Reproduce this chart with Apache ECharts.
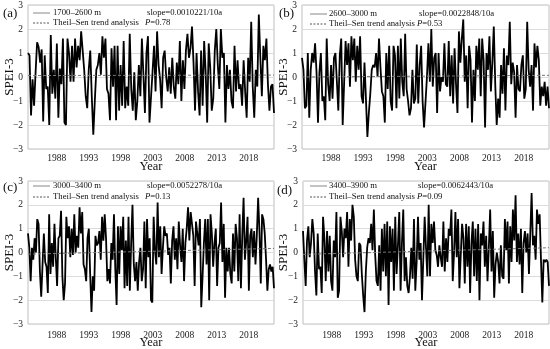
<!DOCTYPE html>
<html><head><meta charset="utf-8">
<script src="https://cdn.jsdelivr.net/npm/echarts@6/dist/echarts.min.js"></script>
<style>html,body{margin:0;padding:0;background:#fff}#c{width:550px;height:349px}</style>
</head><body><div id="c"></div>
<script>
// ---- data ----
const yearStart = 1983.5, yearEnd = 2021.95;
const yearTicks = [1988, 1993, 1998, 2003, 2008, 2013, 2018];
const panelNames = ['(a)', '(b)', '(c)', '(d)'];
const rangeNames = ['1700–2600 m', '2600–3000 m', '3000–3400 m', '3400–3900 m'];
const slopes = ['slope=0.0010221/10a', 'slope=0.0022848/10a', 'slope=0.0052278/10a', 'slope=0.0062443/10a'];
const pValues = ['0.78', '0.53', '0.13', '0.09'];
const trendA = [0.06, 0.08];
const trendB = [0.0, 0.07];
const trendC = [-0.07, 0.17];
const trendD = [-0.08, 0.2];
const speiA = [1.0,0.9,-1.6,-0.1,-1.2,0.2,1.45,1.25,0.6,1.15,-1.85,0.9,-0.5,-0.4,-2.0,1.75,-0.7,0.3,-0.9,1.4,-1.7,0.35,-0.3,1.6,-1.9,-2.0,1.6,1.0,-0.2,1.3,-0.2,1.6,0.4,1.3,0.7,1.9,1.85,0.3,-0.8,-1.3,0.3,1.1,-0.8,-2.4,-1.0,0.3,0.5,1.0,0.1,1.7,0.8,1.6,-0.5,-0.7,-1.8,1.2,-0.4,1.3,-1.8,1.3,-1.4,0.5,-1.2,1.5,-1.3,-0.4,-1.2,1.8,-0.5,-1.4,0.2,-1.8,-1.0,0.5,-0.8,1.6,0.1,-1.5,1.0,1.7,-1.9,-1.9,0.2,1.3,-0.6,1.9,0.5,-0.1,-1.3,0.8,1.1,0.0,-0.6,0.4,-0.7,0.8,-0.4,-0.9,0.6,-0.3,1.5,-1.0,0.7,-0.5,1.1,1.8,0.8,1.2,2.1,0.6,-1.4,1.0,-0.6,-1.6,1.1,-1.2,1.5,0.2,-1.9,1.4,0.4,-1.4,-0.9,1.1,2.0,0.5,-0.5,2.0,0.8,1.0,-1.9,0.5,-0.5,0.3,-1.0,-1.3,1.3,-0.6,0.7,-0.5,-0.3,-1.2,0.7,-0.6,-1.7,0.8,-0.2,2.3,-0.4,-1.7,0.3,-0.4,2.6,0.8,-0.8,1.3,0.7,1.6,-0.3,-1.4,-0.4,-0.3,-1.5];
const speiB = [0.8,0.3,-1.3,-1.2,1.0,-1.7,0.3,1.0,0.6,1.4,0.2,-1.9,0.2,1.0,-1.0,-0.8,-1.8,1.6,-0.3,-1.0,0.5,-0.9,0.8,1.0,-0.2,-1.4,0.9,1.6,-2.0,-2.0,1.5,0.5,1.4,-0.4,1.7,0.7,1.6,-0.2,1.3,0.3,1.7,-0.8,-1.1,0.6,-0.9,-2.5,-1.5,-0.7,0.3,0.5,0.4,1.0,0.0,1.6,0.4,-0.6,-0.8,-1.9,1.0,-0.5,1.3,-1.0,-1.4,1.3,0.9,-1.3,1.3,-0.9,1.6,-0.2,-0.8,1.8,-0.5,-1.0,-1.6,-1.3,0.3,-1.1,-0.9,1.35,-1.1,0.5,1.3,-1.0,-2.1,-2.1,0.0,1.4,-0.2,2.0,-0.4,0.8,1.0,-1.5,1.0,-0.6,0.0,-0.2,1.4,-0.3,-0.4,1.5,-0.8,0.9,-1.1,1.2,-0.3,-1.5,1.9,0.6,1.6,2.4,-0.2,0.9,-1.3,1.3,0.7,-1.9,0.3,-1.0,1.3,0.3,1.6,-0.8,1.6,0.7,-2.1,1.0,0.3,1.7,-0.6,0.6,2.1,-0.3,-2.0,-0.9,-1.7,0.5,-0.7,1.2,-1.4,0.9,0.5,2.3,-0.3,0.6,0.2,-1.7,0.5,-0.5,-0.6,0.5,0.9,-0.9,-0.5,2.3,0.3,-0.4,0.5,-1.4,1.4,0.4,1.3,0.7,-1.2,-0.4,-0.8,-0.2,-1.2,-0.4,-1.3];
const speiC = [0.8,0.2,-1.2,0.2,-0.3,0.6,0.0,1.4,1.2,-0.8,-1.85,-0.5,0.8,-0.4,-0.6,-1.7,1.6,-0.9,0.4,-0.6,1.2,-0.2,-1.4,0.6,0.7,1.75,-1.0,-2.0,-1.3,1.5,0.6,1.1,-0.2,1.0,-0.1,1.6,0.0,0.7,0.2,1.9,0.8,1.7,-0.5,-0.7,-1.2,0.6,1.0,-0.9,-2.5,-1.0,-1.6,0.7,0.3,0.4,0.9,-0.3,1.5,0.5,1.6,0.6,-1.2,-0.7,-1.3,0.4,-0.3,1.6,-0.7,-2.2,1.1,-0.9,1.1,0.1,1.5,-1.5,0.5,-1.4,1.5,-1.6,0.4,2.0,-0.5,-1.2,-0.4,-1.6,-0.4,0.2,-1.2,-0.7,1.3,-1.5,1.4,-0.2,0.6,-2.0,-2.1,1.5,0.1,-0.5,2.1,-0.2,1.1,-0.9,0.2,1.1,0.7,0.8,-0.1,0.2,-1.3,0.5,1.1,-0.3,0.6,-0.7,1.3,0.3,-0.4,1.0,-1.2,0.4,1.0,1.9,0.5,1.7,1.7,0.7,-1.4,1.3,0.8,0.3,1.4,-2.3,-1.0,0.4,1.4,-0.5,1.4,-2.0,1.6,0.8,-0.6,0.4,1.0,-1.4,0.2,0.4,2.1,-0.4,1.2,-1.9,0.2,-0.8,0.2,-0.9,-1.3,0.8,-0.8,1.2,0.6,-1.2,1.6,-1.5,0.7,2.3,-0.3,0.5,1.5,-1.6,0.7,1.0,-0.2,0.9,-0.5,0.7,2.3,0.9,-1.3,1.6,1.4,0.8,-0.3,-1.6,-0.7,-0.5,-0.8,-0.6,-1.5];
const speiD = [0.9,-0.3,-1.4,0.5,1.1,-0.2,0.4,1.4,0.8,-0.8,-1.8,0.8,-0.7,-0.6,-1.7,1.5,0.6,-1.2,0.9,-0.8,0.7,-1.2,-1.6,0.5,-0.2,1.7,-1.9,-1.6,1.5,0.9,-0.2,1.0,0.6,1.7,-0.6,1.4,0.5,2.0,1.5,-0.3,-1.0,-1.2,0.4,0.3,-0.9,-1.8,-2.5,-0.8,0.2,0.6,0.4,1.2,0.1,1.8,-0.1,-1.2,-1.4,0.3,-1.6,1.0,-0.8,1.2,-1.0,1.3,-2.2,1.1,-0.4,1.0,-1.6,1.5,-0.9,0.3,1.7,-1.6,0.4,1.8,-1.2,-0.2,-1.4,-1.7,-1.0,0.2,-1.1,1.4,-1.6,-0.4,1.5,-0.3,0.4,-2.0,-2.0,1.5,0.2,-1.0,2.0,-1.0,1.2,0.4,1.3,0.1,-0.1,-0.6,0.3,-0.2,-0.6,1.3,-0.8,0.6,-0.4,1.0,0.7,1.8,-1.2,0.0,1.7,-0.2,1.4,-1.5,-0.1,1.2,0.6,-1.3,1.2,-0.6,1.1,-1.7,0.4,1.3,-1.0,1.0,-1.2,1.2,-2.0,0.8,0.3,1.3,-0.6,0.7,-1.2,0.2,1.8,-0.8,0.9,-1.9,-0.5,0.0,-0.4,-1.3,0.3,-1.0,-1.1,1.4,0.1,1.3,-1.3,1.1,-0.4,1.8,0.5,2.4,-0.4,0.8,-0.5,1.0,-1.7,0.4,0.9,0.0,0.8,-0.9,0.8,2.5,0.3,0.7,-0.3,1.8,1.2,1.6,-0.3,-2.1,-0.3,-0.4,-0.3,-0.4,-1.4];

// ---- layout ----
const FONT = '"Liberation Serif", "Times New Roman", serif';
const grids = [
  {left: 28, top: 5, width: 246, height: 144},
  {left: 302, top: 5, width: 247, height: 144},
  {left: 28, top: 181, width: 246, height: 143},
  {left: 303, top: 181, width: 246, height: 143}
];
const labelMargins = [4, 4, 6, 6];
const legendPos = [
  {lx: 33, tx: 53, sx: 147, px: 145, y1: 13, y2: 23, labx: 3, laby: 15, yNameX: 10, xNameY: 167},
  {lx: 310, tx: 329, sx: 419, px: 417, y1: 14, y2: 24, labx: 279, laby: 15, yNameX: 284, xNameY: 167},
  {lx: 33, tx: 53, sx: 147, px: 145, y1: 186, y2: 197, labx: 3, laby: 189, yNameX: 10, xNameY: 343},
  {lx: 310, tx: 329, sx: 418, px: 417, y1: 186, y2: 197, labx: 277, laby: 192, yNameX: 284, xNameY: 343}
];
const seriesVals = [speiA, speiB, speiC, speiD];
const trends = [trendA, trendB, trendC, trendD];

function toXY(vals) {
  const n = vals.length;
  return vals.map((v, i) => [yearStart + i * (yearEnd - yearStart) / (n - 1), v]);
}

const option = {
  animation: false,
  backgroundColor: '#fff',
  textStyle: {fontFamily: FONT},
  grid: grids.map(g => Object.assign({show: true, borderColor: '#bfbfbf', borderWidth: 1, backgroundColor: 'transparent'}, g)),
  xAxis: grids.map((g, i) => ({
    gridIndex: i, type: 'value', min: yearStart, max: yearEnd,
    axisLine: {show: false}, axisTick: {show: false}, splitLine: {show: false},
    axisLabel: {customValues: yearTicks, fontFamily: FONT, fontSize: 9.5, color: '#222', margin: labelMargins[i],
      formatter: v => String(Math.round(v))}
  })),
  yAxis: grids.map((g, i) => ({
    gridIndex: i, type: 'value', min: -3, max: 3, interval: 1,
    axisLine: {show: false}, axisTick: {show: false},
    splitLine: {show: true, lineStyle: {color: '#dcdcdc', width: 1}},
    axisLabel: {fontFamily: FONT, fontSize: 9.5, color: '#222', margin: 5,
      formatter: v => String(v).replace('-', '−')}
  })),
  series: [],
  graphic: []
};

seriesVals.forEach((vals, i) => {
  option.series.push({
    type: 'line', xAxisIndex: i, yAxisIndex: i, data: toXY(vals),
    showSymbol: false, symbol: 'none', lineStyle: {color: '#000', width: 1.8}, z: 3
  });
  option.series.push({
    type: 'line', xAxisIndex: i, yAxisIndex: i,
    data: [[yearStart, trends[i][0]], [yearEnd, trends[i][1]]],
    showSymbol: false, symbol: 'none', lineStyle: {color: '#777', width: 1, type: [3, 2]}, z: 4
  });
  const L = legendPos[i];
  const g = grids[i];
  const ts = {fontFamily: FONT, fontSize: 8.7, fill: '#111', verticalAlign: 'middle'};
  option.graphic.push(
    {type: 'text', left: L.labx, top: L.laby - 8, style: {text: panelNames[i], fontFamily: FONT, fontSize: 13, fill: '#111'}},
    {type: 'text', x: L.yNameX, y: g.top + g.height / 2, rotation: Math.PI / 2,
      style: {text: 'SPEI-3', fontFamily: FONT, fontSize: 13, fill: '#111', align: 'center', verticalAlign: 'middle'}},
    {type: 'text', x: g.left + g.width / 2, y: L.xNameY,
      style: {text: 'Year', fontFamily: FONT, fontSize: 12.5, fill: '#111', align: 'center', verticalAlign: 'middle'}},
    {type: 'line', shape: {x1: L.lx, y1: L.y1, x2: L.lx + 17, y2: L.y1}, style: {stroke: '#888', lineWidth: 1}},
    {type: 'text', x: L.tx, y: L.y1, style: Object.assign({text: rangeNames[i]}, ts)},
    {type: 'text', x: L.sx, y: L.y1, style: Object.assign({text: slopes[i]}, ts)},
    {type: 'line', shape: {x1: L.lx, y1: L.y2, x2: L.lx + 17, y2: L.y2}, style: {stroke: '#555', lineWidth: 1, lineDash: [2, 1.5]}},
    {type: 'text', x: L.tx, y: L.y2, style: Object.assign({text: 'Theil–Sen trend analysis'}, ts)},
    {type: 'text', x: L.px, y: L.y2, style: Object.assign({
      text: '{i|P}=' + pValues[i],
      rich: {i: {fontStyle: 'italic', fontFamily: FONT, fontSize: 8.7}}
    }, ts)}
  );
});

const chart = echarts.init(document.getElementById('c'), null, {renderer: 'canvas'});
chart.setOption(option);
</script>
</body></html>
